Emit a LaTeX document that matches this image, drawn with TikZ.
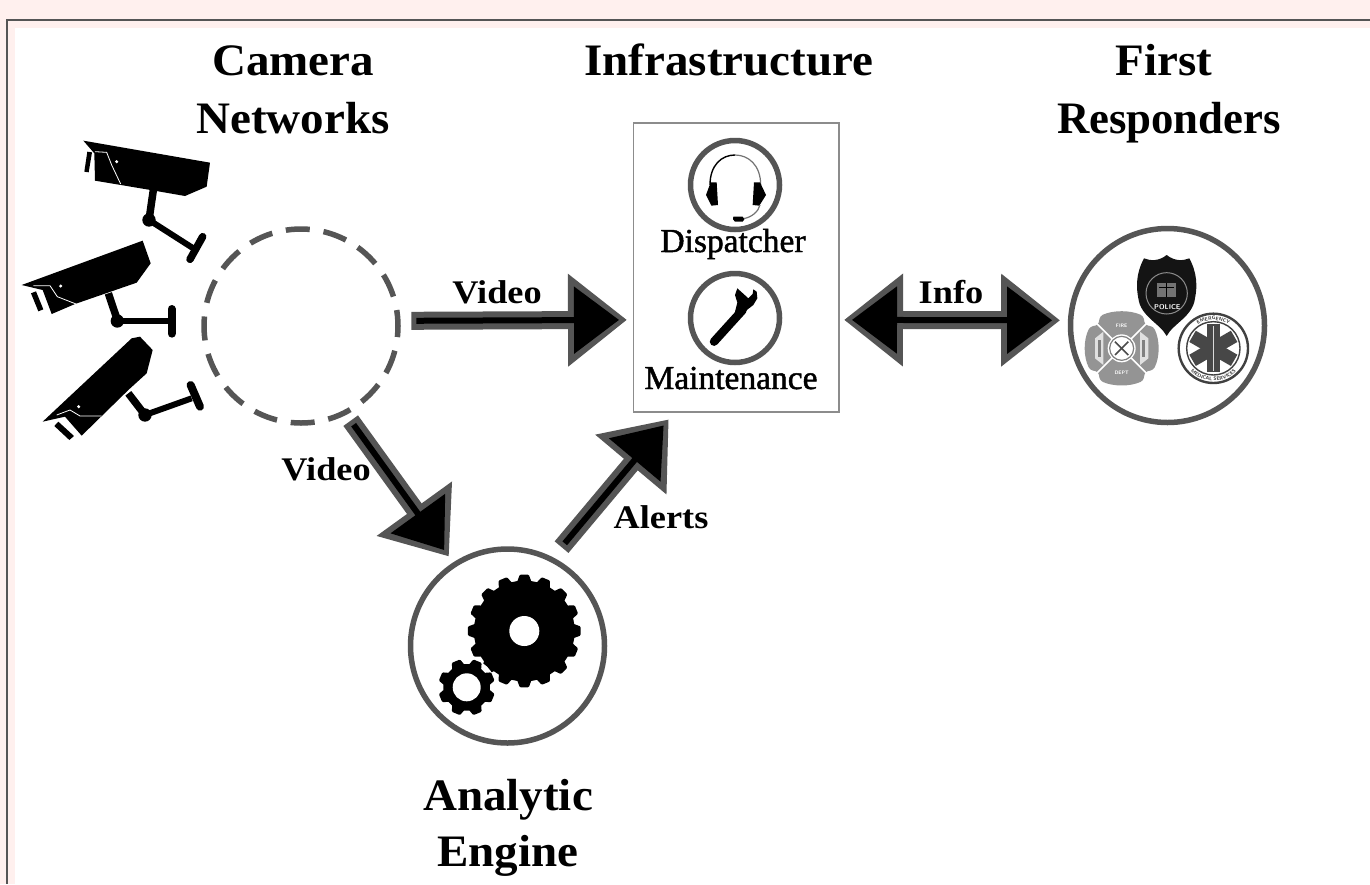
\documentclass[tikz,border=0pt]{standalone}
\usepackage{fontspec}
\usetikzlibrary{arrows.meta,decorations.text}
\setmainfont{Liberation Serif}
\newfontfamily\titlefont[FakeStretch=1.045]{Liberation Serif}
\newfontfamily\narrowtitle[FakeStretch=0.995]{Liberation Serif}
\newfontfamily\lblfont[FakeStretch=1.1]{Liberation Serif}
\newfontfamily\rolefont[FakeBold=1.4]{Liberation Serif}
\definecolor{pinkbg}{HTML}{FFF0EE}
\definecolor{ringgray}{HTML}{555555}
\tikzset{
  titletext/.style={anchor=base,inner sep=0pt,font=\titlefont\bfseries\fontsize{45}{50}\selectfont},
  lbltext/.style={anchor=base,inner sep=0pt,font=\lblfont\bfseries\fontsize{33}{36}\selectfont},
  roletext/.style={anchor=base,inner sep=0pt,font=\rolefont\fontsize{33.5}{36}\selectfont},
  ringnode/.style={circle,draw=ringgray,line width=5.5pt,minimum size=194pt,inner sep=0pt,outer sep=1.5pt},
  smallring/.style={circle,draw=ringgray,line width=5.5pt,minimum size=89pt,inner sep=0pt,outer sep=0pt},
  fatout/.style={draw=ringgray,line width=18pt},
  fatin/.style={draw=black,line width=6pt},
  tinytext/.style={inner sep=0pt,font=\sffamily\bfseries\fontsize{5}{5}\selectfont},
}
\newcommand{\fatarrow}[4]{%
  \draw[fatout,shorten <=#3pt,shorten >=#4pt,-{Triangle[length=59pt,width=89pt]}] (#1) -- (#2);
  \pgfmathsetmacro{\sa}{#3+5}\pgfmathsetmacro{\sb}{#4+8}%
  \draw[fatin,shorten <=\sa pt,shorten >=\sb pt,-{Triangle[length=45pt,width=66pt]}] (#1) -- (#2);
}
\newcommand{\fatdouble}[4]{%
  \draw[fatout,shorten <=#3pt,shorten >=#4pt,{Triangle[length=59pt,width=89pt]}-{Triangle[length=59pt,width=89pt]}] (#1) -- (#2);
  \pgfmathsetmacro{\sa}{#3+8}\pgfmathsetmacro{\sb}{#4+8}%
  \draw[fatin,shorten <=\sa pt,shorten >=\sb pt,{Triangle[length=45pt,width=66pt]}-{Triangle[length=45pt,width=66pt]}] (#1) -- (#2);
}
% gear: cx cy teeth outer root hole offset
\newcommand{\gearicon}[7]{%
  \begin{scope}[shift={(#1,#2)}]
  \pgfmathsetmacro{\st}{360/#3}
  \filldraw[black,line width=3pt,line join=round]
    ({#7-0.3*\st}:#5) \foreach \i in {1,...,#3} {
      -- ({#7+(\i-1)*\st-0.16*\st}:#4) -- ({#7+(\i-1)*\st+0.16*\st}:#4)
      -- ({#7+(\i-1)*\st+0.3*\st}:#5) -- ({#7+\i*\st-0.3*\st}:#5)
    } -- cycle;
  \fill[white] (0,0) circle[radius=#6];
  \end{scope}
}
\begin{document}
\begin{tikzpicture}[x=1pt,y=-1pt]
\useasboundingbox (0,0) rectangle (1370,884);
\fill[pinkbg] (0,0) rectangle (1370,884);
\draw[ringgray,line width=2pt] (1370,19.5) -- (7,19.5) -- (7,884);
\fill[white] (15,28) rectangle (1370,884);

% nodes
\node[ringnode,dashed,dash pattern=on 24pt off 13.9pt,dash phase=8pt] (cam) at (301,326) {};
\node[ringnode] (eng) at (507.5,646) {};
\node[ringnode] (resp) at (1167.5,325.5) {};
\node[draw=black!45,line width=1.5pt,minimum width=205.5pt,minimum height=289pt,inner sep=0pt,outer sep=0pt] (box) at (736.25,267.5) {};
\node[smallring] (disp) at (735,185) {};
\node[smallring] (maint) at (735,318) {};

% titles
\node[titletext] (t1) at (293,75) {Camera};
\node[titletext] (t2) at (293,133) {Networks};
\node[titletext] (t3) at (729,75) {Infrastructure};
\node[titletext] (t4) at (1164,75) {First};
\node[titletext,font=\narrowtitle\bfseries\fontsize{45}{50}\selectfont] (t5) at (1169,133) {Responders};
\node[titletext] (t6) at (508,810) {Analytic};
\node[titletext] (t7) at (508,866) {Engine};
\node[lbltext] (l1) at (497,303) {Video};
\node[lbltext] (l2) at (326,480) {Video};
\node[lbltext] (l3) at (661,528) {Alerts};
\node[lbltext] (l4) at (951,303) {Info};
\node[roletext] (r1) at (733,252) {Dispatcher};
\node[roletext] (r2) at (731,389) {Maintenance};

% arrows
\fatarrow{cam.3}{box.207.56}{12}{6.5}
\fatdouble{box.-27.56}{resp.177.4}{5}{9}
\fatarrow{cam.-63}{eng.123.6}{8.5}{8.5}
\fatarrow{eng.63.6}{box.247.3}{14.5}{9.6}

% cameras (coordinates of the 3x crop)
\begin{scope}[shift={(0,120)},scale=1/3]
  % top
  \fill[black] (250,62) -- (630,128) -- (620,200) -- (555,228) -- (440,208) -- (285,182) -- (283,100) -- cycle;
  \draw[white,line width=.8pt] (285,95) -- (320,97) -- (335,135) -- (362,192);
  \fill[white] (350,125) circle[radius=5];
  \fill[black] (262,95) -- (276,97) -- (266,157) -- (253,155) -- cycle;
  \draw[black,line width=7.5pt] (460,210) -- (447,300);
  \draw[black,line width=6pt] (447,300) -- (580,385);
  \fill[black] (447,300) circle[radius=20];
  \draw[black,line width=7.5pt,line cap=round] (608,350) -- (570,418);
  % middle
  \fill[black] (65,495) -- (428,362) -- (452,430) -- (410,488) -- (225,552) -- (155,582) -- (128,510) -- cycle;
  \draw[white,line width=.8pt] (100,497) -- (150,497) -- (172,530) -- (228,552);
  \fill[white] (182,498) circle[radius=5];
  \fill[black] (93,520) -- (108,514) -- (130,568) -- (115,574) -- cycle;
  \draw[black,line width=7.5pt] (325,520) -- (352,600);
  \draw[black,line width=6pt] (352,603) -- (505,603);
  \fill[black] (352,603) circle[radius=20];
  \draw[black,line width=8pt,line cap=round] (515,567) -- (515,641);
  % bottom
  \fill[black] (128,905) -- (395,655) -- (420,650) -- (458,690) -- (440,760) -- (385,810) -- (245,947) -- (195,890) -- cycle;
  \draw[white,line width=.8pt] (170,885) -- (210,870) -- (240,888) -- (305,888);
  \fill[white] (236,860) circle[radius=5];
  \fill[black] (163,918) -- (175,905) -- (222,948) -- (208,960) -- cycle;
  \draw[black,line width=7.5pt] (385,820) -- (435,885);
  \draw[black,line width=6pt] (435,885) -- (575,835);
  \fill[black] (435,885) circle[radius=20];
  \draw[black,line width=8pt,line cap=round] (572,795) -- (600,860);
\end{scope}

% gears
\gearicon{524.3}{631}{16}{55}{49}{15}{0}
\fill[white] (466.7,687.3) circle[radius=29];
\gearicon{466.7}{687.3}{8}{27}{22}{14}{22.5}

% headset and wrench (coordinates of the 3x crop)
\begin{scope}[shift={(620,110)},scale=1/3]
  \draw[black,line width=1.4pt] (270,225) .. controls (270,165) and (305,135) .. (345,135);
  \draw[black!55,line width=1.2pt] (345,135) .. controls (385,135) and (422,165) .. (422,225);
  \fill[black] (272,217) -- (290,217) -- (294,285) -- (274,287) -- (258,255) -- cycle;
  \fill[black] (420,217) -- (402,217) -- (398,285) -- (418,287) -- (438,255) -- cycle;
  \draw[black!55,line width=1.2pt] (420,285) .. controls (415,305) and (395,322) .. (370,326);
  \fill[black] (340,320) -- (368,320) -- (373,328) -- (368,335) -- (345,335) -- (339,328) -- cycle;
  \draw[black,line width=8.5pt,line cap=round] (282,695) -- (368,600);
  \fill[black] (345,605) -- (352,578) -- (345,555) -- (352,535) -- (372,553) -- (385,565) -- (398,552) -- (400,538) -- (410,545) -- (412,565) -- (400,585) -- (378,602) -- (358,628) -- cycle;
\end{scope}

% badges (coordinates of the 3x crop)
\begin{scope}[shift={(1050,210)},scale=1/3]
  % fire
  \fill[black!42,rounded corners=3pt] (150,318) .. controls (190,300) and (240,300) .. (280,318)
    -- (285,345) -- (310,350) .. controls (330,390) and (330,440) .. (310,480)
    -- (285,485) -- (280,512) .. controls (240,530) and (190,530) .. (150,512)
    -- (145,485) -- (120,480) .. controls (100,440) and (100,390) .. (120,350)
    -- (145,345) -- cycle;
  \draw[white,line width=1.6pt] (135,335) -- (295,495) (295,335) -- (135,495);
  \fill[white] (215,415) circle[radius=42];
  \draw[black!50,line width=1.2pt] (215,415) circle[radius=36];
  \draw[black!70,line width=1.6pt] (195,395) -- (235,435) (235,395) -- (195,435);
  \fill[black!12] (135,385) -- (160,365) -- (160,465) -- (135,445) -- cycle;
  \fill[black!12] (295,385) -- (270,365) -- (270,465) -- (295,445) -- cycle;
  \fill[black!50] (144,390) rectangle (154,440);
  \fill[black!50] (276,390) rectangle (286,440);
  \node[tinytext,white] (fi) at (215,347) {FIRE};
  \node[tinytext,white] (de) at (215,487) {DEPT};
  % ems
  \fill[white] (490,415) circle[radius=108];
  \draw[black!75,line width=2.4pt] (490,415) circle[radius=104];
  \draw[black!75,line width=1.4pt] (490,415) circle[radius=80];
  \foreach \a in {90,30,150} \draw[black!72,line width=13pt] (490,415) ++(\a:-72) -- ++(\a:144);
  \draw[black!15,line width=1pt] (490,348) -- (490,482);
  \path[decorate,decoration={text along path,text align=center,
     text={|\sffamily\bfseries\fontsize{5}{5}\selectfont\color{black!80}|EMERGENCY}}]
     (416.4,372.5) arc[start angle=210,end angle=330,radius=85];
  \path[decorate,decoration={text along path,text align=center,
     text={|\sffamily\bfseries\fontsize{5}{5}\selectfont\color{black!80}|MEDICAL SERVICES}}]
     (394.5,431.8) arc[start angle=170,end angle=10,radius=97];
  % police
  \fill[black!92] (350,135) .. controls (325,155) and (300,152) .. (282,145)
    .. controls (258,190) and (258,230) .. (265,265)
    .. controls (272,320) and (330,340) .. (350,378)
    .. controls (370,340) and (428,320) .. (435,265)
    .. controls (442,230) and (442,190) .. (418,145)
    .. controls (400,152) and (375,155) .. (350,135) -- cycle;
  \draw[black!45,line width=1pt] (350,250) circle[radius=62];
  \fill[black!55] (322,218) rectangle (378,262);
  \draw[black,line width=.8pt] (350,218) -- (350,262) (328,232) -- (372,232);
  \node[tinytext,white,font=\sffamily\bfseries\fontsize{7}{7}\selectfont] (po) at (352,292) {POLICE};
\end{scope}
\end{tikzpicture}
\end{document}
